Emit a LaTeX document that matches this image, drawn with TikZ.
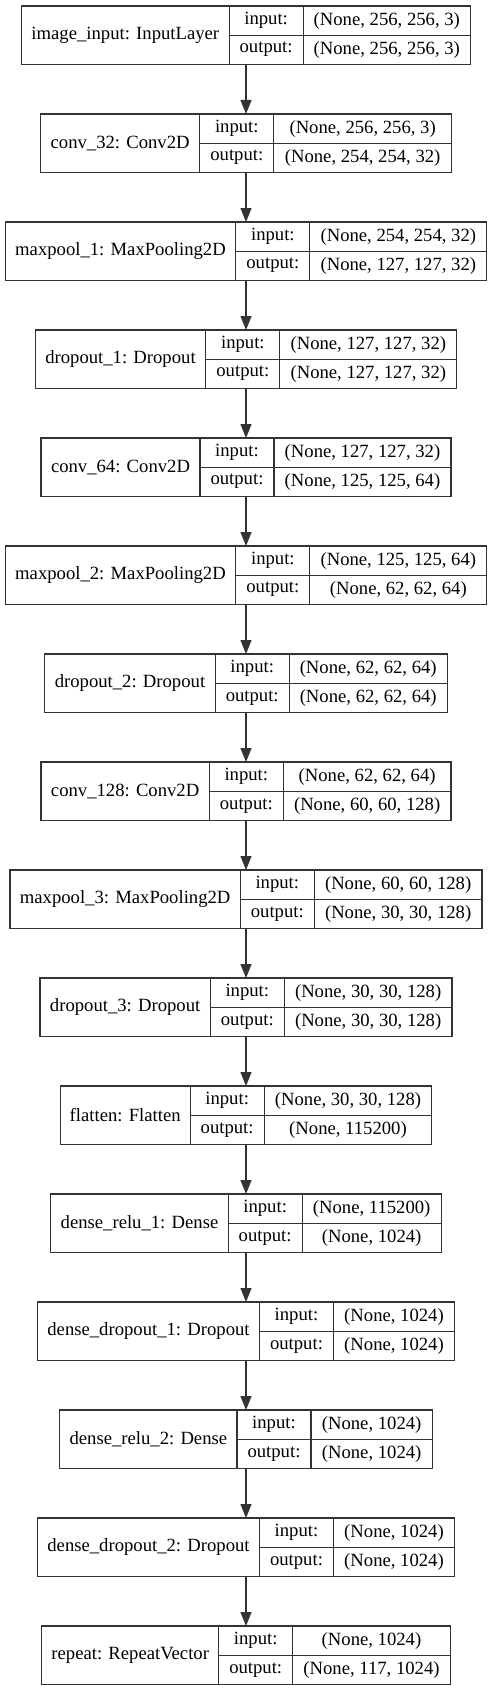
\documentclass[tikz,border=0pt]{standalone}
\usepackage{fontspec}
\setmainfont{Liberation Serif}
\usetikzlibrary{arrows.meta, positioning}

\begin{document}
\begin{tikzpicture}[
      x=1pt, y=-1pt,
      layer/.style={inner sep=0pt, outer sep=0pt, minimum height=58.3pt},
      cell/.style={draw=black!80, line width=1.2pt, inner sep=0pt, outer sep=0pt,
                   font=\fontsize{18.67}{22}\selectfont, align=center},
      namecell/.style={cell, minimum height=58.3pt},
      tagcell/.style={cell, minimum width=74pt, minimum height=29.15pt},
      shapecell/.style={cell, minimum height=29.15pt},
      arr/.style={-{Triangle[length=14pt, width=11pt]}, line width=1.2pt, draw=black!80, fill=black}]

    \useasboundingbox (0,0) rectangle (492,1691);

    % ============================================
    % layers: index / name width / shape width / name / input / output
    % ============================================
    \foreach \i/\lw/\sw/\nm/\inp/\outp in {
        0/207.6/167.4/{image\_input: InputLayer}/{(None, 256, 256, 3)}/{(None, 256, 256, 3)},
        1/159.3/177.7/{conv\_32: Conv2D}/{(None, 256, 256, 3)}/{(None, 254, 254, 32)},
        2/230.7/177.0/{maxpool\_1: MaxPooling2D}/{(None, 254, 254, 32)}/{(None, 127, 127, 32)},
        3/170.7/177.0/{dropout\_1: Dropout}/{(None, 127, 127, 32)}/{(None, 127, 127, 32)},
        4/159.0/177.0/{conv\_64: Conv2D}/{(None, 127, 127, 32)}/{(None, 125, 125, 64)},
        5/230.7/177.0/{maxpool\_2: MaxPooling2D}/{(None, 125, 125, 64)}/{(None, 62, 62, 64)},
        6/170.4/158.0/{dropout\_2: Dropout}/{(None, 62, 62, 64)}/{(None, 62, 62, 64)},
        7/168.3/167.7/{conv\_128: Conv2D}/{(None, 62, 62, 64)}/{(None, 60, 60, 128)},
        8/230.3/167.7/{maxpool\_3: MaxPooling2D}/{(None, 60, 60, 128)}/{(None, 30, 30, 128)},
        9/170.3/167.7/{dropout\_3: Dropout}/{(None, 30, 30, 128)}/{(None, 30, 30, 128)},
        10/130.0/167.7/{flatten: Flatten}/{(None, 30, 30, 128)}/{(None, 115200)},
        11/177.3/139.0/{dense\_relu\_1: Dense}/{(None, 115200)}/{(None, 1024)},
        12/222.0/121.0/{dense\_dropout\_1: Dropout}/{(None, 1024)}/{(None, 1024)},
        13/177.3/121.3/{dense\_relu\_2: Dense}/{(None, 1024)}/{(None, 1024)},
        14/222.0/121.0/{dense\_dropout\_2: Dropout}/{(None, 1024)}/{(None, 1024)},
        15/177.0/157.6/{repeat: RepeatVector}/{(None, 1024)}/{(None, 117, 1024)}} {
        \node[layer, minimum width=\lw+74+\sw] (L\i) at (246, 35.15+108*\i) {};
        \node[namecell, minimum width=\lw, anchor=west] (L\i-name) at (L\i.west) {\nm};
        \node[tagcell, anchor=north west] (L\i-in) at (L\i-name.north east) {input:};
        \node[tagcell, anchor=north west] (L\i-out) at (L\i-in.south west) {output:};
        \node[shapecell, minimum width=\sw, anchor=north west] (L\i-ins) at (L\i-in.north east) {\inp};
        \node[shapecell, minimum width=\sw, anchor=north west] (L\i-outs) at (L\i-out.north east) {\outp};
    }

    % arrows between consecutive layers
    \foreach \i [evaluate=\i as \j using int(\i+1)] in {0,...,14} {
        \draw[arr] (L\i) -- (L\j);
    }

\end{tikzpicture}
\end{document}
